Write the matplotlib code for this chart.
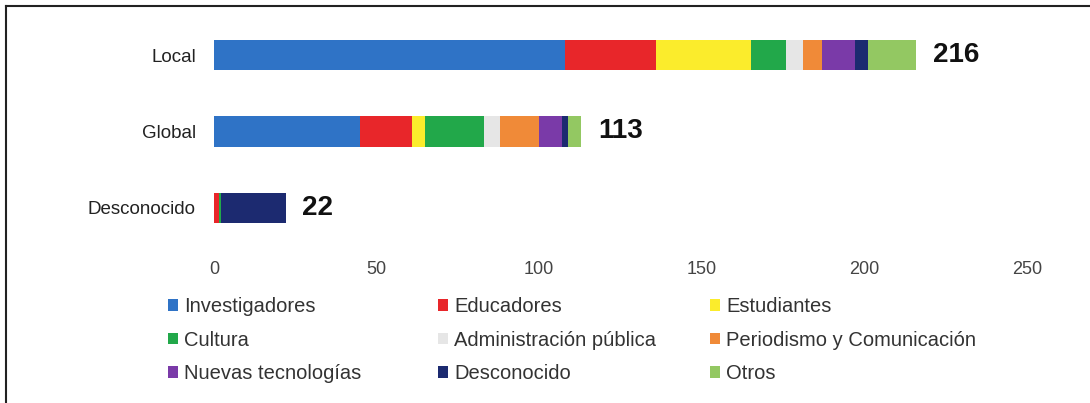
import matplotlib.pyplot as plt
from matplotlib.lines import Line2D

plt.rcParams['font.family'] = ['Liberation Sans', 'DejaVu Sans']

groups = ['Local', 'Global', 'Desconocido']
series = ['Investigadores', 'Educadores', 'Estudiantes', 'Cultura',
          'Administración pública', 'Periodismo y Comunicación',
          'Nuevas tecnologías', 'Desconocido', 'Otros']
investigadores = [108, 45, 0]
educadores = [28, 16, 1.5]
estudiantes = [29, 4, 0]
cultura = [11, 18, 0.5]
administracion = [5, 5, 0]
periodismo = [6, 12, 0]
nuevas = [10, 7, 0.3]
desconocido = [4, 2, 19.7]
otros = [15, 4, 0]
totals = [216, 113, 22]
xticks = [0, 50, 100, 150, 200, 250]

colors = ['#2f73c6', '#e8262a', '#fbec2c', '#22a84a', '#e6e6e6',
          '#f08a38', '#7a3aa8', '#1c2a70', '#93c862']

values = [investigadores, educadores, estudiantes, cultura, administracion,
          periodismo, nuevas, desconocido, otros]

fig = plt.figure(figsize=(10.9, 4.03), dpi=100)
ax = fig.add_axes([214 / 1090, 1 - 246 / 403, (1027 - 214) / 1090, (246 - 17) / 403])

ypos = list(range(len(groups)))
left = [0] * len(groups)
bars = []
for name, vals, col in zip(series, values, colors):
    b = ax.barh(ypos, vals, left=left, height=0.4, color=col, label=name)
    bars.append(b)
    left = [l + v for l, v in zip(left, vals)]

for y, t in zip(ypos, totals):
    ax.annotate(str(t), (t, y), xytext=(12, 0), textcoords='offset points',
                ha='left', va='center', fontsize=20, fontweight='bold', color='#111111')

ax.set_xlim(0, 250)
ax.set_ylim(2.5, -0.5)
ax.set_xticks(xticks)
ax.set_xticklabels([str(x) for x in xticks], color='#444444', fontsize=13)
ax.set_yticks(ypos)
ax.set_yticklabels(groups, fontsize=13.5, color='#222222')
ax.tick_params(axis='x', length=0, pad=11)
ax.tick_params(axis='y', length=0, pad=13)
for s in ax.spines.values():
    s.set_visible(False)

# legend: three fixed-width columns like the original
col_x = [160 / 1090, 430 / 1090, 702 / 1090]
for c in range(3):
    idx = [c, c + 3, c + 6]
    leg = fig.legend([bars[i] for i in idx], [series[i] for i in idx],
                     loc='upper left', bbox_to_anchor=(col_x[c], 1 - 289 / 403),
                     frameon=False, fontsize=14.5, handlelength=0.5, handleheight=0.5,
                     handletextpad=0.3, labelspacing=0.72, borderaxespad=0,
                     labelcolor='#333333')

fig.add_artist(Line2D([6 / 1090, 6 / 1090], [0, 1 - 6 / 403], color='#222222', lw=1.5))
fig.add_artist(Line2D([6 / 1090, 1], [1 - 6 / 403, 1 - 6 / 403], color='#222222', lw=1.5))

fig.savefig('out.png', dpi=100)
